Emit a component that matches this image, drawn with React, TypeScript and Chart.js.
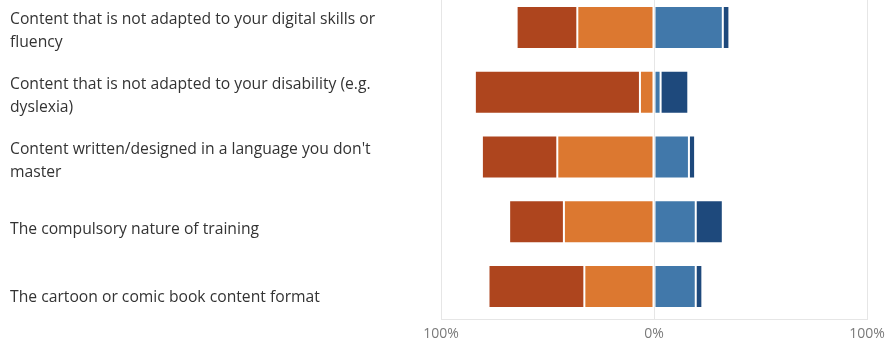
import React, { useEffect, useRef } from "react";
import { Chart, registerables } from "chart.js";

Chart.register(...registerables);

const categories: string[][] = [
  ["Content that is not adapted to your digital skills or", "fluency"],
  ["Content that is not adapted to your disability (e.g.", "dyslexia)"],
  ["Content written/designed in a language you don't", "master"],
  ["", "The compulsory nature of training"],
  ["", "The cartoon or comic book content format"],
];

// shares in % (left side drawn as negative)
const stronglyNegative = [28.5, 77.5, 35.4, 25.7, 45.0];
const negative = [36.0, 6.6, 45.4, 42.3, 32.7];
const positive = [32.3, 3.1, 16.4, 19.6, 19.6];
const stronglyPositive = [3.1, 13.0, 2.9, 12.7, 3.1];

const xTicks = [-100, 0, 100];

const COLORS = {
  darkRed: "#AE451E",
  orange: "#DC7830",
  blue: "#4178AA",
  darkBlue: "#1E497C",
};

const labelLineHeights = [23, 23, 23, 8, 14];

export default function App() {
  const ref = useRef<HTMLCanvasElement | null>(null);

  useEffect(() => {
    if (!ref.current) return;
    const common = {
      borderWidth: 1,
      borderColor: "rgba(255,255,255,0.25)",
      borderSkipped: false as const,
      barPercentage: 0.664,
      categoryPercentage: 1,
    };
    const chart = new Chart(ref.current, {
      type: "bar",
      data: {
        labels: categories,
        datasets: [
          { label: "Negative", data: negative.map((v) => -v), backgroundColor: COLORS.orange, ...common },
          { label: "Strongly negative", data: stronglyNegative.map((v) => -v), backgroundColor: COLORS.darkRed, ...common },
          { label: "Positive", data: positive, backgroundColor: COLORS.blue, ...common },
          { label: "Strongly positive", data: stronglyPositive, backgroundColor: COLORS.darkBlue, ...common },
        ],
      },
      options: {
        indexAxis: "y",
        animation: false,
        responsive: false,
        maintainAspectRatio: false,
        layout: { padding: { left: 10, right: 19, top: 0, bottom: 0 } },
        plugins: { legend: { display: false }, tooltip: { enabled: false } },
        scales: {
          x: {
            stacked: true,
            min: -100,
            max: 100,
            afterBuildTicks: (scale: any) => {
              scale.ticks = xTicks.map((v) => ({ value: v }));
            },
            afterFit: (scale: any) => {
              scale.height = 26;
              scale.paddingLeft = 0;
              scale.paddingRight = 0;
            },
            ticks: {
              callback: (v: any) => Math.abs(Number(v)) + "%",
              color: "#7a7a7a",
              padding: 7,
              font: { family: "'Open Sans', sans-serif", size: 14 },
              maxRotation: 0,
            },
            grid: { color: "#e6e6e6", drawTicks: false, lineWidth: 1 },
            border: { display: true, color: "#e6e6e6" },
          },
          y: {
            stacked: true,
            afterFit: (scale: any) => {
              scale.width = 431;
              scale.paddingTop = 0;
              scale.paddingBottom = 0;
            },
            ticks: {
              crossAlign: "far",
              color: "#333333",
              padding: 0,
              labelOffset: 4,
              font: (ctx: any) => ({
                family: "'Open Sans', sans-serif",
                size: 15.7,
                lineHeight: (labelLineHeights[ctx.index] ?? 23) + "px",
              }),
            },
            grid: { display: false, drawTicks: false },
            border: { display: true, color: "#e6e6e6" },
          },
        },
      },
    });
    return () => chart.destroy();
  }, []);

  return (
    <div style={{ position: "fixed", left: 0, top: -5, width: 886, height: 350 }}>
      <canvas ref={ref} width={886} height={350} style={{ width: 886, height: 350, display: "block" }} />
    </div>
  );
}
